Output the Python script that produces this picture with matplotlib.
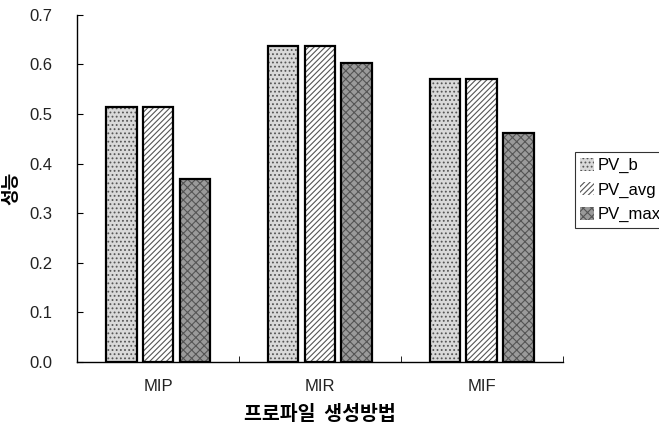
import matplotlib
matplotlib.use("Agg")
import matplotlib.pyplot as plt
import numpy as np

plt.rcParams['font.family'] = ['Liberation Sans', 'Noto Sans CJK KR', 'DejaVu Sans']
plt.rcParams['hatch.linewidth'] = 0.8

categories = ["MIP", "MIR", "MIF"]
series_names = ["PV_b", "PV_avg", "PV_max"]
pv_b = [0.515, 0.638, 0.570]
pv_avg = [0.515, 0.638, 0.571]
pv_max = [0.370, 0.602, 0.462]
yticks = [0.0, 0.1, 0.2, 0.3, 0.4, 0.5, 0.6, 0.7]

fig = plt.figure(figsize=(6.59, 4.25), dpi=100)
ax = fig.add_axes([0.117, 0.148, 0.737, 0.817])

x = np.arange(len(categories))
w = 0.19
step = 0.228
styles = [
    dict(facecolor="#d9d9d9", hatch="....", edgecolor="black"),
    dict(facecolor="white", hatch="//////", edgecolor="black"),
    dict(facecolor="#9a9a9a", hatch="xxxx", edgecolor="black"),
]
for i, (vals, name) in enumerate(zip([pv_b, pv_avg, pv_max], series_names)):
    st = styles[i]
    ax.bar(x + (i - 1) * step, vals, width=w, label=name,
           facecolor=st["facecolor"], hatch=st["hatch"],
           edgecolor="#555555", linewidth=0)
    ax.bar(x + (i - 1) * step, vals, width=w, facecolor="none",
           edgecolor="black", linewidth=1.6)

ax.set_xlim(-0.5, 2.5)
ax.set_ylim(0, 0.7)
ax.set_yticks(yticks)
ax.set_yticklabels([f"{v:.1f}" for v in yticks], fontsize=12, color="#222222")
ax.set_xticks(x)
ax.set_xticklabels(categories, fontsize=12, color="#222222")
ax.tick_params(axis='x', length=0, pad=12)
ax.set_xticks([0.5, 1.5, 2.5], minor=True)
ax.tick_params(axis='x', which='minor', direction='in', length=4)
ax.tick_params(axis='y', direction='in', length=4, pad=18)
for s in ["top", "right"]:
    ax.spines[s].set_visible(False)
ax.spines["left"].set_linewidth(1.0)
ax.spines["bottom"].set_linewidth(1.0)

ax.set_ylabel("성능", fontsize=13, fontweight="bold", labelpad=6,
              family=['Noto Sans CJK KR', 'DejaVu Sans'])
ax.set_xlabel("프로파일  생성방법", fontsize=14, fontweight="bold", labelpad=8,
              family=['Noto Sans CJK KR', 'DejaVu Sans'])

leg = fig.legend(*ax.get_legend_handles_labels(), loc="upper left",
                 bbox_to_anchor=(0.872, 0.642), fontsize=12, frameon=True,
                 fancybox=False, edgecolor="black", handlelength=0.8,
                 handleheight=0.8, handletextpad=0.2, borderpad=0.35,
                 labelspacing=0.55, borderaxespad=0)
leg.get_frame().set_linewidth(0.8)

fig.savefig("out.png", dpi=100)
